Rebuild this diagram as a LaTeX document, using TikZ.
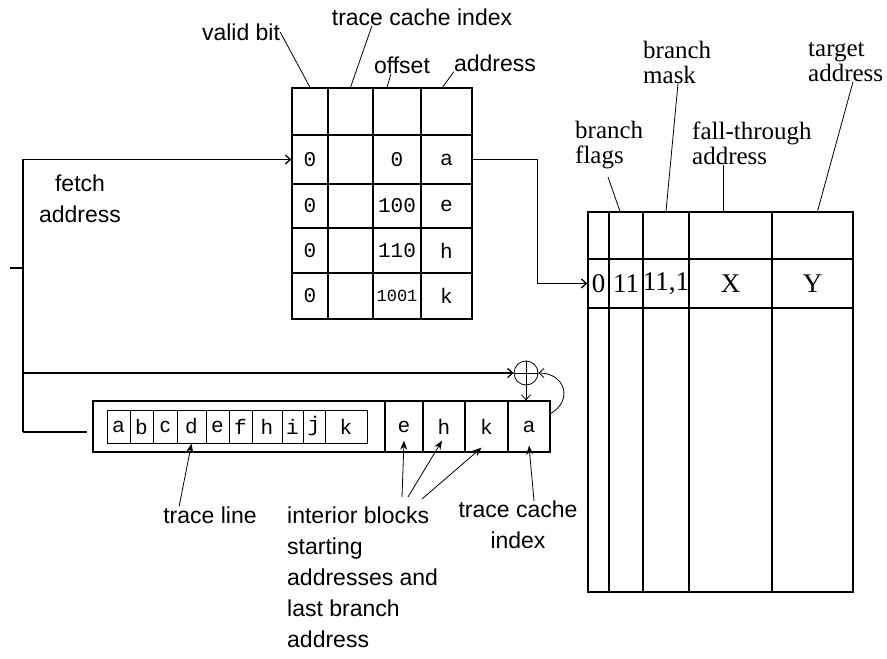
\documentclass[tikz,border=0pt]{standalone}
\usepackage{fontspec}
\newfontfamily\lsans{Liberation Sans}
\newfontfamily\lserif{Liberation Serif}
\newfontfamily\lmono{Liberation Mono}
\usetikzlibrary{arrows.meta}

\begin{document}
\begin{tikzpicture}[
  x=1pt, y=-1pt,
  cell/.style={draw, line width=1.3pt, inner sep=0pt},
  lbl/.style={font=\lsans\fontsize{23}{31}\selectfont, inner sep=0pt},
  slbl/.style={font=\lserif\fontsize{25}{25}\selectfont, inner sep=0pt, align=left},
  val/.style={font=\lmono\fontsize{21}{21}\selectfont},
  sval/.style={font=\lsans\fontsize{21}{21}\selectfont},
  rval/.style={font=\lserif\fontsize{27}{27}\selectfont},
  wire/.style={line width=1.3pt},
  lead/.style={line width=0.8pt},
  arr/.style={-{Straight Barb[length=5pt,width=9pt]}, line width=1.3pt},
  sarr/.style={-{Stealth[length=9pt,width=7pt]}, line width=0.8pt}
]
  \useasboundingbox (0,0) rectangle (887,659);
  \clip (0,0) rectangle (887,659);

  % index table
  \foreach \xa/\xb [count=\c] in {292/328,328/373,373/421,421/472}
    \foreach \ya/\yb [count=\r from 0] in {88/135,135/184,184/228,228/273,273/319}
      \node[cell, minimum width={(\xb-\xa)*1pt}, minimum height={(\yb-\ya)*1pt}]
        (itab\r\c) at ({(\xa+\xb)/2},{(\ya+\yb)/2}) {};
  \foreach \t/\s [count=\r] in {a/sval,e/sval,h/val,k/val} {
    \node[val] at (itab\r1) {0};
    \node[\s] at (itab\r4) {\t};
  }
  \node[val] at (itab13) {0};
  \node[val] at (itab23) {100};
  \node[val] at (itab33) {110};
  \node[val, font=\lmono\fontsize{17}{17}\selectfont] at (itab43) {1001};

  \node[lbl] (vbit) at (241,32) {valid bit};
  \node[lbl] (tci1) at (422,17) {trace cache index};
  \node[lbl] (offs) at (402,65) {offset};
  \node[lbl] (addr) at (495,63) {address};
  \draw[lead] (vbit.east) -- (itab01.north);
  \draw[lead] ([xshift=-50pt]tci1.south) -- (itab02.north);
  \draw[lead] ([xshift=-11pt]offs.south) -- ([xshift=-10pt]itab03.north);
  \draw[lead] (addr.south west) -- ([xshift=-4pt]itab04.north);

  % trace table
  \foreach \xa/\xb [count=\c] in {588/609,609/643,643/689,689/772,772/853}
    \foreach \ya/\yb [count=\r from 0] in {212/259,259/308,308/592}
      \node[cell, minimum width={(\xb-\xa)*1pt}, minimum height={(\yb-\ya)*1pt}]
        (ttab\r\c) at ({(\xa+\xb)/2},{(\ya+\yb)/2}) {};
  \foreach \v [count=\c] in {0,11,{11,1},X,Y}
    \node[rval] at (ttab1\c) {\v};

  \node[slbl, anchor=west] (bflag) at (575,145) {branch\\flags};
  \node[slbl, anchor=west] (bmask) at (643,62) {branch\\mask};
  \node[slbl, anchor=west] (fthru) at (692,143) {fall-through\\address};
  \node[slbl, anchor=west] (tgt) at (808,62) {target\\address};
  \coordinate (ftap) at ([xshift=-7pt]ttab04.north);
  \draw[lead] ([shift={(33,8)}]bflag.south west) -- ([xshift=-6pt]ttab02.north);
  \draw[lead] ([xshift=35pt]bmask.south west) -- (ttab03.north);
  \draw[wire] (ftap) -- (ftap |- fthru.south);
  \draw[lead] ([xshift=45pt]tgt.south west) -- ([xshift=5pt]ttab05.north);

  % trace line
  \node[cell, minimum width=457pt, minimum height=51pt] (tbox) at (321.5,426.5) {};
  \foreach \xa/\xb/\t/\s in {107/130/a/sval,130/153/b/val,153/177/c/sval,177/206/d/val,
      206/229/e/sval,229/252/f/val,252/282/h/val,282/303/i/val,303/325/j/val,325/367/k/val}
    \node[cell, line width=1pt, \s, minimum width={(\xb-\xa)*1pt}, minimum height=33pt]
      (tl\t) at ({(\xa+\xb)/2},426.5) {\t};
  \foreach \xa/\xb/\t/\s in {385/423/e/sval,423/465/h/val,465/508/k/val,508/550/a/sval}
    \node[cell, \s, minimum width={(\xb-\xa)*1pt}, minimum height=51pt]
      (tb\t) at ({(\xa+\xb)/2},426.5) {\t};

  \node[draw, circle, lead, minimum size=24pt, inner sep=0pt] (xor) at (526,373) {};
  \draw[lead] (xor.north) -- (xor.south) (xor.west) -- (xor.east);

  % fetch address bus
  \node[lbl, align=center] (fetch) at (80,199) {fetch\\address};
  \coordinate (busB) at (23,432);
  \coordinate (busIn) at (10,268);
  \draw[arr] (busB) -- (busB |- itab11.west) -- (itab11.west);
  \draw[wire] (busIn) -- (busIn -| busB);
  \draw[arr] (busB |- xor) -- (xor.west);
  \draw[wire, shorten >=5pt] (busB) -- (busB -| tbox.west);
  \draw[arr, lead] (xor.south) -- (xor.south |- tbox.north);
  \draw[arr, lead] ([yshift=13pt]tba.east) to[out=30, in=0, looseness=1.6] (xor.east);
  \draw[arr] (itab14.east) -- ++(65,0) |- (ttab11.west);

  % labels below
  \node[lbl] (tline) at (210,515) {trace line};
  \draw[sarr] ([xshift=16pt]tline.north west) -- (tld.south);
  \node[lbl, align=left, anchor=north west] (intr) at (287,507)
    {interior blocks\\starting\\addresses and\\last branch\\address};
  \draw[sarr] ([shift={(115,-10)}]intr.north west) -- ([yshift=12pt]tbe.south);
  \draw[sarr] ([shift={(121,-10)}]intr.north west) -- ([shift={(-2,-12)}]tbh.south);
  \draw[sarr] ([shift={(135,-8)}]intr.north west) -- ([shift={(-5,-5)}]tbk.south);
  \node[lbl, align=center] (tci2) at (518,525) {trace cache\\index};
  \draw[sarr] ([xshift=16pt]tci2.north) -- ([yshift=7pt]tba.south);
\end{tikzpicture}
\end{document}
